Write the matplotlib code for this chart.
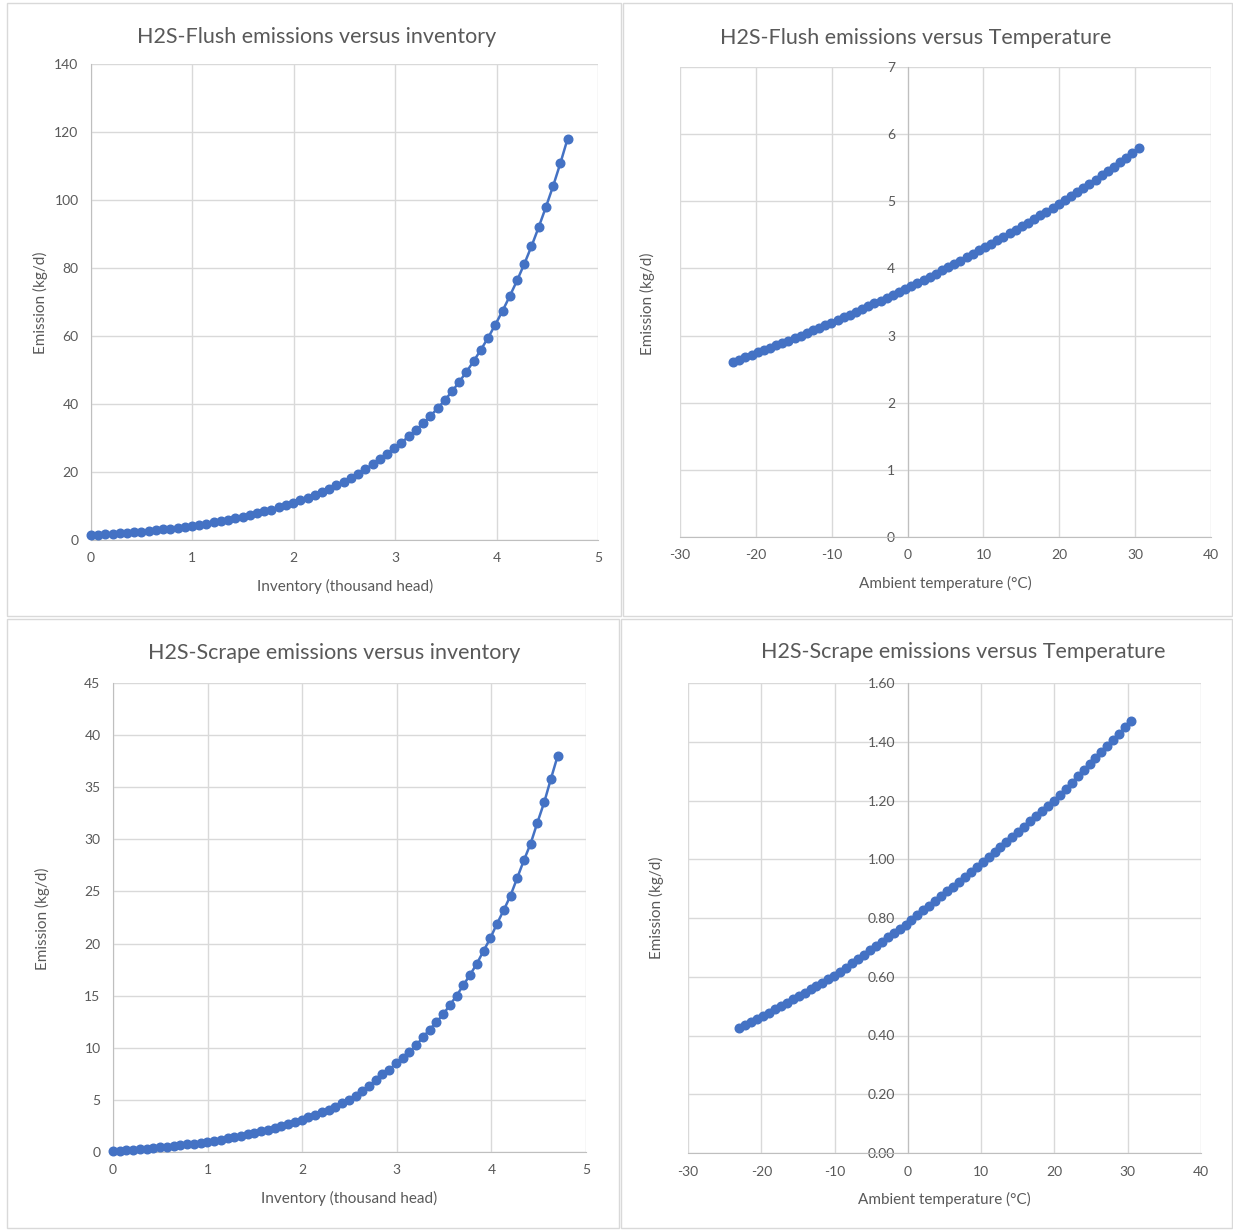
import matplotlib
matplotlib.use("Agg")
import matplotlib.pyplot as plt
from matplotlib.patches import Rectangle
from matplotlib.ticker import FormatStrFormatter

# ---------------- data ----------------
inventory = [0.000, 0.071, 0.142, 0.214, 0.285, 0.356, 0.427, 0.498, 0.570, 0.641,
             0.712, 0.783, 0.855, 0.926, 0.997, 1.068, 1.139, 1.211, 1.282, 1.353,
             1.424, 1.495, 1.567, 1.638, 1.709, 1.780, 1.852, 1.923, 1.994, 2.065,
             2.136, 2.208, 2.279, 2.350, 2.421, 2.492, 2.564, 2.635, 2.706, 2.777,
             2.848, 2.920, 2.991, 3.062, 3.133, 3.205, 3.276, 3.347, 3.418, 3.489,
             3.561, 3.632, 3.703, 3.774, 3.845, 3.917, 3.988, 4.059, 4.130, 4.202,
             4.273, 4.344, 4.415, 4.486, 4.558, 4.629, 4.700]

flush_inv = [1.40, 1.52, 1.65, 1.79, 1.95, 2.11, 2.30, 2.49, 2.69, 2.89,
             3.11, 3.35, 3.61, 3.89, 4.19, 4.49, 4.83, 5.18, 5.56, 5.97,
             6.40, 6.88, 7.35, 7.85, 8.39, 8.96, 9.58, 10.24, 10.94, 11.67,
             12.45, 13.28, 14.17, 15.10, 16.12, 17.18, 18.32, 19.55, 20.84, 22.24,
             23.71, 25.28, 26.98, 28.67, 30.45, 32.33, 34.33, 36.48, 38.74, 41.14,
             43.72, 46.53, 49.48, 52.62, 55.96, 59.54, 63.37, 67.42, 71.74, 76.33,
             81.19, 86.39, 92.00, 97.90, 104.17, 110.82, 118.00]

scrape_inv = [0.08, 0.12, 0.17, 0.22, 0.27, 0.32, 0.39, 0.46, 0.51, 0.57,
              0.64, 0.72, 0.80, 0.90, 1.00, 1.09, 1.19, 1.30, 1.42, 1.55,
              1.69, 1.85, 1.99, 2.14, 2.31, 2.49, 2.68, 2.88, 3.10, 3.32,
              3.55, 3.80, 4.07, 4.36, 4.67, 5.00, 5.41, 5.86, 6.35, 6.88,
              7.45, 7.90, 8.50, 9.05, 9.60, 10.25, 11.00, 11.75, 12.45, 13.20,
              14.10, 15.00, 16.00, 17.00, 18.05, 19.30, 20.50, 21.90, 23.20, 24.60,
              26.30, 28.00, 29.60, 31.60, 33.55, 35.80, 38.00]

temperature = [-23.00, -22.19, -21.38, -20.57, -19.76, -18.95, -18.14, -17.33, -16.52, -15.71,
               -14.90, -14.09, -13.28, -12.47, -11.66, -10.85, -10.04, -9.23, -8.42, -7.61,
               -6.80, -5.99, -5.18, -4.37, -3.56, -2.75, -1.94, -1.13, -0.32, 0.49,
               1.30, 2.11, 2.92, 3.73, 4.54, 5.35, 6.16, 6.97, 7.78, 8.59,
               9.40, 10.21, 11.02, 11.83, 12.64, 13.45, 14.26, 15.07, 15.88, 16.69,
               17.50, 18.31, 19.12, 19.93, 20.74, 21.55, 22.36, 23.17, 23.98, 24.79,
               25.60, 26.41, 27.22, 28.03, 28.84, 29.65, 30.46]

flush_temp = [2.601, 2.637, 2.674, 2.711, 2.748, 2.782, 2.817, 2.853, 2.889, 2.926,
              2.963, 3.000, 3.038, 3.076, 3.115, 3.154, 3.194, 3.234, 3.273, 3.313,
              3.353, 3.395, 3.436, 3.478, 3.520, 3.564, 3.607, 3.651, 3.696, 3.741,
              3.786, 3.831, 3.877, 3.924, 3.972, 4.020, 4.068, 4.117, 4.167, 4.217,
              4.268, 4.319, 4.369, 4.419, 4.470, 4.522, 4.575, 4.628, 4.681, 4.735,
              4.790, 4.846, 4.902, 4.958, 5.017, 5.077, 5.138, 5.199, 5.261, 5.324,
              5.388, 5.453, 5.518, 5.584, 5.651, 5.719, 5.788]

scrape_temp = [0.425, 0.435, 0.446, 0.456, 0.466, 0.478, 0.489, 0.500, 0.512, 0.523,
               0.534, 0.546, 0.557, 0.568, 0.580, 0.591, 0.602, 0.617, 0.631, 0.646,
               0.661, 0.675, 0.690, 0.704, 0.719, 0.734, 0.748, 0.763, 0.777, 0.793,
               0.809, 0.826, 0.842, 0.858, 0.875, 0.891, 0.907, 0.924, 0.940, 0.957,
               0.973, 0.990, 1.007, 1.024, 1.042, 1.059, 1.077, 1.094, 1.111, 1.129,
               1.146, 1.164, 1.181, 1.199, 1.219, 1.240, 1.261, 1.282, 1.303, 1.324,
               1.344, 1.365, 1.386, 1.407, 1.428, 1.449, 1.470]

titles = ["H2S-Flush emissions versus inventory",
          "H2S-Flush emissions versus Temperature",
          "H2S-Scrape emissions versus inventory",
          "H2S-Scrape emissions versus Temperature"]
xlabel_inv = "Inventory (thousand head)"
xlabel_temp = "Ambient temperature (°C)"
ylabel = "Emission (kg/d)"

inv_ticks = [0, 1, 2, 3, 4, 5]
temp_ticks = [-30, -20, -10, 0, 10, 20, 30, 40]
flush_inv_ticks = [0, 20, 40, 60, 80, 100, 120, 140]
flush_temp_ticks = [0, 1, 2, 3, 4, 5, 6, 7]
scrape_inv_ticks = [0, 5, 10, 15, 20, 25, 30, 35, 40, 45]
scrape_temp_ticks = [0.0, 0.2, 0.4, 0.6, 0.8, 1.0, 1.2, 1.4, 1.6]

# ---------------- style ----------------
W, H = 1233, 1230
FONT = ["Lato", "DejaVu Sans"]
plt.rcParams['font.family'] = FONT
plt.rcParams['axes.unicode_minus'] = False
TXT = '#595959'
GRID = '#d9d9d9'
AXIS = '#bfbfbf'
BLUE = '#4472C4'

fig = plt.figure(figsize=(W / 100, H / 100), dpi=100)
fig.patch.set_facecolor('white')


def fx(x):
    return x / W


def fy(y):
    return 1 - y / H


def panel_frame(l, t, r, b):
    fig.patches.append(Rectangle((fx(l), fy(b)), (r - l) / W, (b - t) / H,
                                 transform=fig.transFigure, fill=False,
                                 edgecolor=GRID, linewidth=1.0))


def make_axes(l, t, r, b):
    return fig.add_axes([fx(l), fy(b), (r - l) / W, (b - t) / H])


def ftext(x, y, s, **kw):
    fig.text(fx(x), fy(y), s, ha='center', va='center', color=TXT, **kw)


def style(ax, xt, yt, xlim, ylim, yaxis_at_zero=False, yfmt=None):
    ax.set_xlim(*xlim)
    ax.set_ylim(*ylim)
    ax.set_xticks(xt)
    ax.set_yticks(yt)
    ax.grid(True, color=GRID, linewidth=1.0)
    ax.set_axisbelow(True)
    for s in ['top', 'right']:
        ax.spines[s].set_visible(False)
    ax.spines['bottom'].set_color(AXIS)
    ax.spines['left'].set_color(AXIS)
    if yaxis_at_zero:
        ax.spines['left'].set_position(('data', 0))
    ax.tick_params(length=0, labelcolor=TXT, labelsize=10, pad=9)
    if yfmt:
        ax.yaxis.set_major_formatter(FormatStrFormatter(yfmt))
    for lab in ax.get_xticklabels() + ax.get_yticklabels():
        lab.set_family(FONT)


def plot_series(ax, x, y):
    ax.plot(x, y, color=BLUE, linewidth=1.8, marker='o', markersize=6.2,
            markerfacecolor=BLUE, markeredgecolor=BLUE, clip_on=False, zorder=3)


# panel frames
panel_frame(7, 3, 621, 616)
panel_frame(623, 3, 1232, 616)
panel_frame(7, 619, 619, 1228)
panel_frame(621, 619, 1232, 1228)

TS = 15.5
LS = 11

# Top-left
ax1 = make_axes(91, 64, 598, 540)
plot_series(ax1, inventory, flush_inv)
style(ax1, inv_ticks, flush_inv_ticks, (0, 5), (0, 140))
ftext(317, 37, titles[0], fontsize=TS)
ftext(345, 586, xlabel_inv, fontsize=LS)
ftext(40, 303, ylabel, fontsize=LS, rotation=90)

# Top-right
ax2 = make_axes(680, 67, 1211, 537)
plot_series(ax2, temperature, flush_temp)
style(ax2, temp_ticks, flush_temp_ticks, (-30, 40), (0, 7), yaxis_at_zero=True)
ftext(916, 38, titles[1], fontsize=TS)
ftext(945, 583, xlabel_temp, fontsize=LS)
ftext(647, 304, ylabel, fontsize=LS, rotation=90)

# Bottom-left
ax3 = make_axes(113, 683, 586, 1152)
plot_series(ax3, inventory, scrape_inv)
style(ax3, inv_ticks, scrape_inv_ticks, (0, 5), (0, 45))
ftext(334, 653, titles[2], fontsize=TS)
ftext(349, 1198, xlabel_inv, fontsize=LS)
ftext(42, 919, ylabel, fontsize=LS, rotation=90)

# Bottom-right
ax4 = make_axes(688, 683, 1201, 1153)
plot_series(ax4, temperature, scrape_temp)
style(ax4, temp_ticks, scrape_temp_ticks, (-30, 40), (0, 1.6), yaxis_at_zero=True, yfmt='%.2f')
ftext(963, 652, titles[3], fontsize=TS)
ftext(944, 1199, xlabel_temp, fontsize=LS)
ftext(656, 908, ylabel, fontsize=LS, rotation=90)

fig.savefig("out.png", dpi=100, facecolor='white')
